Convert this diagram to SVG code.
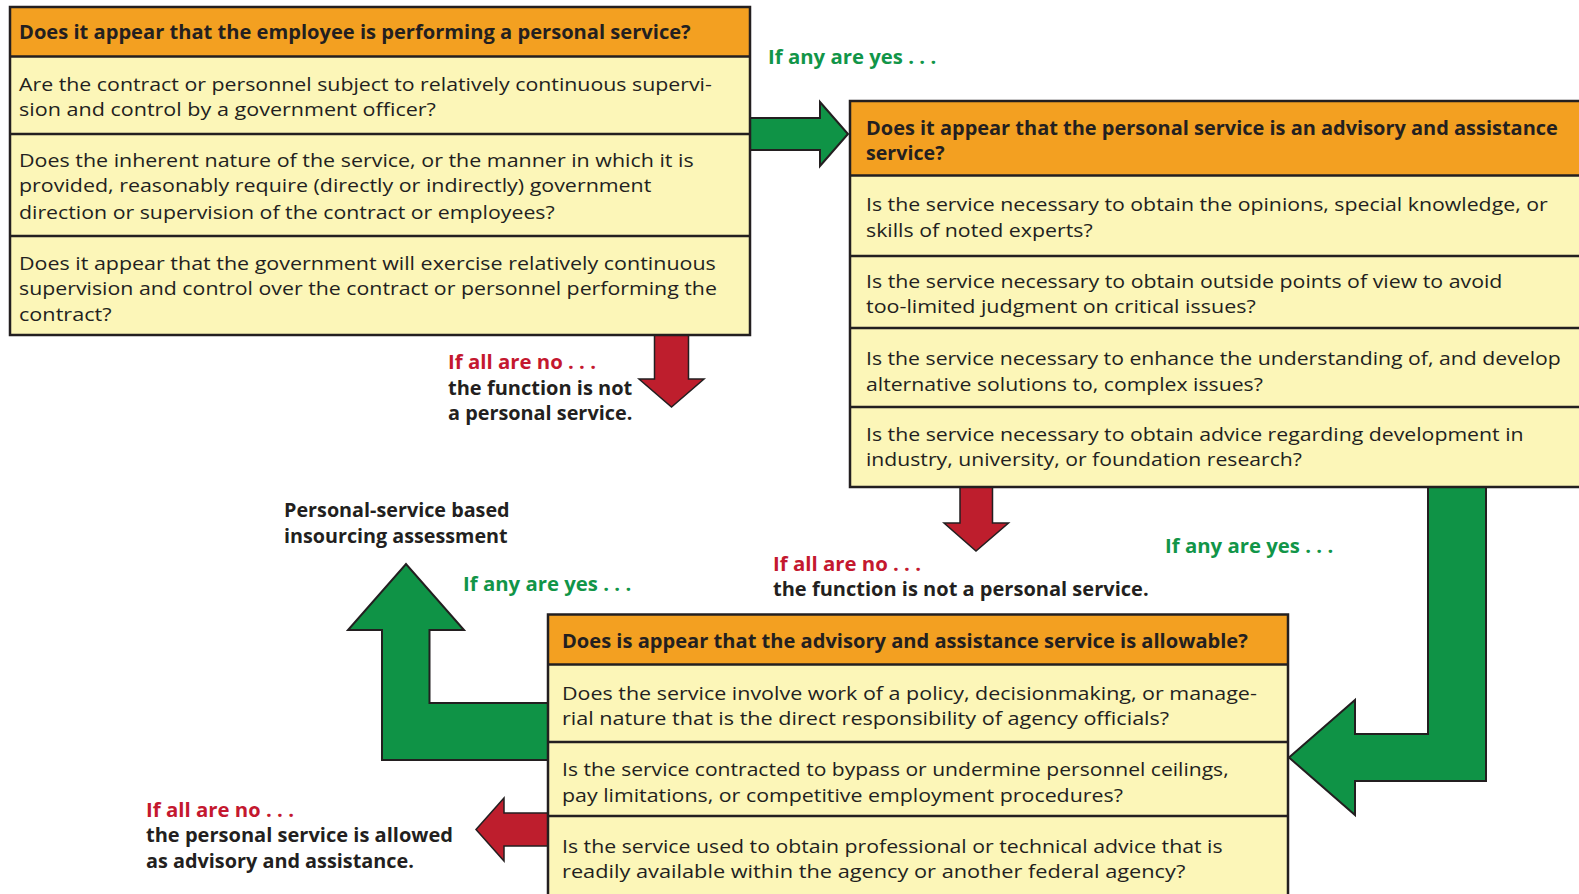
<svg xmlns="http://www.w3.org/2000/svg" width="1579" height="894" viewBox="0 0 1579 894">
<style>
.hdr{fill:#F3A021;stroke:none}
.row{fill:#FCF6B8;stroke:none}
.frame{fill:none;stroke:#231F20;stroke-width:2.5}
.sep{stroke:#231F20;stroke-width:2.5}
.t{font-family:"Open Sans","Noto Sans","Liberation Sans",sans-serif;font-size:19px;fill:#231F20}
.b{font-weight:bold}
.g{fill:#119548;font-weight:bold}
.r{fill:#C4182F;font-weight:bold}
.ga{fill:#0F9346;stroke:#231F20;stroke-width:2;stroke-linejoin:miter}
.ra{fill:#BE1E2D;stroke:#231F20;stroke-width:1.5;stroke-linejoin:miter}
</style>
<rect width="1579" height="894" fill="#FFFFFF"/>

<g id="connectors">
<polygon class="ga" points="750,118 820,118 820,102 848,134 820,166 820,150 750,150"/>
<polygon class="ra" points="654.5,335 688.5,335 688.5,379 704,379 671.5,407 639,379 654.5,379"/>
<polygon class="ra" points="960,487 992.5,487 992.5,523 1008.5,523 976,551 944,523 960,523"/>
<polygon class="ga" points="1428,487 1486,487 1486,781 1355,781 1355,815 1289,757.5 1355,700 1355,734 1428,734"/>
<polygon class="ga" points="548,703 429.5,703 429.5,630 464,630 406,564 348,630 382,630 382,760 548,760"/>
<polygon class="ra" points="548,813 504,813 504,798 476,829.5 504,861 504,846 548,846"/>
</g>

<g id="node-personal-service">
<rect class="hdr" x="10" y="7" width="740" height="49.5"/>
<rect class="row" x="10" y="56.5" width="740" height="278.5"/>
<rect class="frame" x="10" y="7" width="740" height="328"/>
<line class="sep" x1="10" y1="56.5" x2="750" y2="56.5"/>
<line class="sep" x1="10" y1="134" x2="750" y2="134"/>
<line class="sep" x1="10" y1="236" x2="750" y2="236"/>
<text class="t b" x="19" y="39" textLength="671.7" lengthAdjust="spacingAndGlyphs">Does it appear that the employee is performing a personal service?</text>
<text class="t" x="19" y="90.5" textLength="692.8" lengthAdjust="spacingAndGlyphs">Are the contract or personnel subject to relatively continuous supervi-</text>
<text class="t" x="19" y="115.7" textLength="416.9" lengthAdjust="spacingAndGlyphs">sion and control by a government officer?</text>
<text class="t" x="19" y="167" textLength="674.7" lengthAdjust="spacingAndGlyphs">Does the inherent nature of the service, or the manner in which it is</text>
<text class="t" x="19" y="192.3" textLength="632.4" lengthAdjust="spacingAndGlyphs">provided, reasonably require (directly or indirectly) government</text>
<text class="t" x="19" y="218.5" textLength="535.7" lengthAdjust="spacingAndGlyphs">direction or supervision of the contract or employees?</text>
<text class="t" x="19" y="269.8" textLength="696.8" lengthAdjust="spacingAndGlyphs">Does it appear that the government will exercise relatively continuous</text>
<text class="t" x="19" y="295" textLength="697.9" lengthAdjust="spacingAndGlyphs">supervision and control over the contract or personnel performing the</text>
<text class="t" x="19" y="321" textLength="92.6" lengthAdjust="spacingAndGlyphs">contract?</text>
</g>

<g id="node-advisory-assistance">
<rect class="hdr" x="850" y="101" width="740" height="74.5"/>
<rect class="row" x="850" y="175.5" width="740" height="311.5"/>
<rect class="frame" x="850" y="101" width="740" height="386"/>
<line class="sep" x1="850" y1="175.5" x2="1590" y2="175.5"/>
<line class="sep" x1="850" y1="256" x2="1590" y2="256"/>
<line class="sep" x1="850" y1="328" x2="1590" y2="328"/>
<line class="sep" x1="850" y1="407" x2="1590" y2="407"/>
<text class="t b" x="866" y="135" textLength="691.8" lengthAdjust="spacingAndGlyphs">Does it appear that the personal service is an advisory and assistance</text>
<text class="t b" x="866" y="160" textLength="78.5" lengthAdjust="spacingAndGlyphs">service?</text>
<text class="t" x="866" y="211.4" textLength="681.7" lengthAdjust="spacingAndGlyphs">Is the service necessary to obtain the opinions, special knowledge, or</text>
<text class="t" x="866" y="236.6" textLength="226.6" lengthAdjust="spacingAndGlyphs">skills of noted experts?</text>
<text class="t" x="866" y="288" textLength="636.4" lengthAdjust="spacingAndGlyphs">Is the service necessary to obtain outside points of view to avoid</text>
<text class="t" x="866" y="313" textLength="389.7" lengthAdjust="spacingAndGlyphs">too-limited judgment on critical issues?</text>
<text class="t" x="866" y="364.5" textLength="694.8" lengthAdjust="spacingAndGlyphs">Is the service necessary to enhance the understanding of, and develop</text>
<text class="t" x="866" y="390.7" textLength="396.8" lengthAdjust="spacingAndGlyphs">alternative solutions to, complex issues?</text>
<text class="t" x="866" y="441" textLength="657.6" lengthAdjust="spacingAndGlyphs">Is the service necessary to obtain advice regarding development in</text>
<text class="t" x="866" y="466" textLength="436" lengthAdjust="spacingAndGlyphs">industry, university, or foundation research?</text>
</g>

<g id="node-allowable">
<rect class="hdr" x="548" y="614.5" width="740" height="50"/>
<rect class="row" x="548" y="664.5" width="740" height="240"/>
<rect class="frame" x="548" y="614.5" width="740" height="290"/>
<line class="sep" x1="548" y1="664.5" x2="1288" y2="664.5"/>
<line class="sep" x1="548" y1="742" x2="1288" y2="742"/>
<line class="sep" x1="548" y1="816" x2="1288" y2="816"/>
<text class="t b" x="562" y="648" textLength="685.8" lengthAdjust="spacingAndGlyphs">Does is appear that the advisory and assistance service is allowable?</text>
<text class="t" x="562" y="700" textLength="694.8" lengthAdjust="spacingAndGlyphs">Does the service involve work of a policy, decisionmaking, or manage-</text>
<text class="t" x="562" y="725" textLength="607.2" lengthAdjust="spacingAndGlyphs">rial nature that is the direct responsibility of agency officials?</text>
<text class="t" x="562" y="776" textLength="666.6" lengthAdjust="spacingAndGlyphs">Is the service contracted to bypass or undermine personnel ceilings,</text>
<text class="t" x="562" y="801.5" textLength="560.9" lengthAdjust="spacingAndGlyphs">pay limitations, or competitive employment procedures?</text>
<text class="t" x="562" y="853" textLength="660.6" lengthAdjust="spacingAndGlyphs">Is the service used to obtain professional or technical advice that is</text>
<text class="t" x="562" y="878" textLength="623.3" lengthAdjust="spacingAndGlyphs">readily available within the agency or another federal agency?</text>
</g>

<g id="labels">
<text class="t g" x="768" y="64.4" textLength="168.2" lengthAdjust="spacingAndGlyphs">If any are yes . . .</text>
<text class="t r" x="448" y="368.5" textLength="148" lengthAdjust="spacingAndGlyphs">If all are no . . .</text>
<text class="t b" x="448" y="394.7" textLength="184.3" lengthAdjust="spacingAndGlyphs">the function is not</text>
<text class="t b" x="448" y="420" textLength="184.3" lengthAdjust="spacingAndGlyphs">a personal service.</text>
<text class="t r" x="773" y="571" textLength="148" lengthAdjust="spacingAndGlyphs">If all are no . . .</text>
<text class="t b" x="773" y="596" textLength="375.6" lengthAdjust="spacingAndGlyphs">the function is not a personal service.</text>
<text class="t g" x="1165" y="552.8" textLength="168.2" lengthAdjust="spacingAndGlyphs">If any are yes . . .</text>
<text class="t b" x="284" y="516.5" textLength="225.6" lengthAdjust="spacingAndGlyphs">Personal-service based</text>
<text class="t b" x="284" y="542.7" textLength="223.6" lengthAdjust="spacingAndGlyphs">insourcing assessment</text>
<text class="t g" x="463" y="591" textLength="168.2" lengthAdjust="spacingAndGlyphs">If any are yes . . .</text>
<text class="t r" x="146" y="816.6" textLength="148" lengthAdjust="spacingAndGlyphs">If all are no . . .</text>
<text class="t b" x="146" y="841.8" textLength="307" lengthAdjust="spacingAndGlyphs">the personal service is allowed</text>
<text class="t b" x="146" y="868" textLength="267.9" lengthAdjust="spacingAndGlyphs">as advisory and assistance.</text>
</g>
</svg>
